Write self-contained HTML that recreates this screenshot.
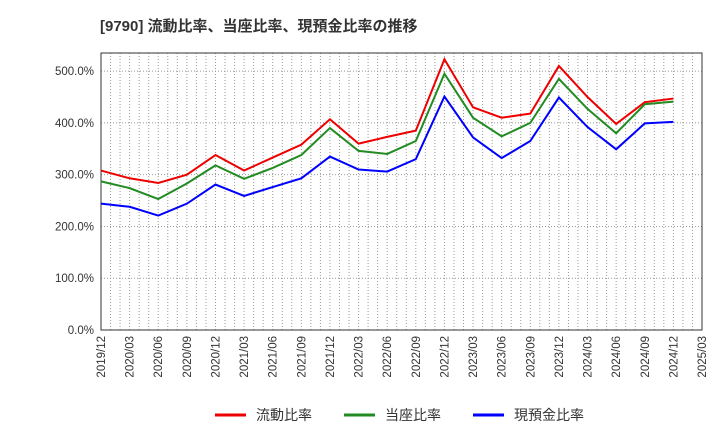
<!DOCTYPE html>
<html><head><meta charset="utf-8"><style>
body{margin:0;background:#fff;font-family:"Liberation Sans","Noto Sans CJK JP",sans-serif;}
</style></head><body>
<svg id="chart" width="720" height="440" xmlns="http://www.w3.org/2000/svg" style="font-family:'Liberation Sans','Noto Sans CJK JP',sans-serif">
<text x="100" y="31" font-size="15" font-weight="bold" fill="#333">[9790]  流動比率、当座比率、現預金比率の推移</text>
<g id="grid"></g><g id="axes"></g><g id="series"></g>
<g font-size="14" fill="#333">
<line x1="215" y1="415" x2="246" y2="415" stroke="#e00" stroke-width="3"/><text x="256" y="420">流動比率</text>
<line x1="344" y1="415" x2="375" y2="415" stroke="#228B22" stroke-width="3"/><text x="385" y="420">当座比率</text>
<line x1="473" y1="415" x2="504" y2="415" stroke="#00f" stroke-width="3"/><text x="514" y="420">現預金比率</text>
</g>
</svg>
<script>
const categories=["2019/12","2020/03","2020/06","2020/09","2020/12","2021/03","2021/06","2021/09","2021/12","2022/03","2022/06","2022/09","2022/12","2023/03","2023/06","2023/09","2023/12","2024/03","2024/06","2024/09","2024/12","2025/03"];
const currentRatio=[308,293,284,300,338,308,333,358,407,360,373,385,523,430,410,418,510,450,398,440,447];
const quickRatio=[287,274,253,283,318,292,313,338,390,346,340,365,495,410,374,400,485,427,380,436,441];
const cashRatio=[244,238,221,244,281,259,276,293,335,310,306,330,451,372,332,365,449,392,349,399,402];
const yTicks=[0,100,200,300,400,500];
const yTickLabels=["0.0%","100.0%","200.0%","300.0%","400.0%","500.0%"];
const L=101,R=702,T=53,B=330,NS="http://www.w3.org/2000/svg";
const x=i=>L+(R-L)*i/(categories.length-1);
const y=v=>B-(B-T)*v/535;
function mk(tag,attrs,parent){const e=document.createElementNS(NS,tag);for(const k in attrs)e.setAttribute(k,attrs[k]);document.getElementById(parent).appendChild(e);return e;}
for(let m=1;m<(categories.length-1)*3;m++){const xx=L+(R-L)*m/((categories.length-1)*3);
const g=mk("line",{x1:xx,x2:xx,y1:T,y2:B,stroke:"#999","stroke-dasharray":"1,2","stroke-width":1},"grid");

}
yTicks.forEach((v,i)=>{if(v>0){const g=mk("line",{x1:L,x2:R,y1:y(v),y2:y(v),stroke:"#999","stroke-dasharray":"1,2"},"grid");

}
const t=mk("text",{x:L-7,y:y(v)+4,"text-anchor":"end","font-size":"11.5",fill:"#333"},"axes");t.textContent=yTickLabels[i];

});
const fr=mk("rect",{x:L,y:T,width:R-L,height:B-T,fill:"none",stroke:"#333"},"axes");


categories.forEach((c,i)=>{const t=mk("text",{transform:`translate(${x(i)+4},${B+6}) rotate(-90)`,"text-anchor":"end","font-size":"11.5",fill:"#333"},"axes");t.textContent=c;

});
[[currentRatio,"#e00","current-ratio-line"],[quickRatio,"#228B22","quick-ratio-line"],[cashRatio,"#00f","cash-ratio-line"]].forEach(([d,c,n])=>{
const p=mk("polyline",{points:d.map((v,i)=>x(i)+","+y(v)).join(" "),fill:"none",stroke:c,"stroke-width":2},"series");

});
</script>
</body></html>
